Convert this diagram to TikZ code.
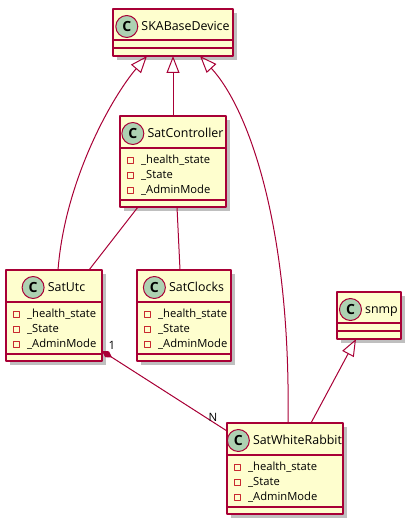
\documentclass[tikz,border=0pt]{standalone}
\usepackage{fontspec}
\setmainfont{Open Sans}
\usetikzlibrary{arrows.meta}
\usetikzlibrary{positioning}
\usetikzlibrary{shadows}

\definecolor{umlborder}{HTML}{A80036}
\definecolor{umlfill}{HTML}{FEFECE}
\definecolor{umlcircle}{HTML}{ADD1B2}
\definecolor{umlpriv}{HTML}{C82930}

\tikzset{
  classbox/.style={draw=umlborder,fill=umlfill,line width=1.5pt,inner sep=0pt,outer sep=0pt,
    anchor=north west,drop shadow={shadow xshift=4pt,shadow yshift=-4pt,fill=black,opacity=.25}},
  classname/.style={inner sep=0pt,text height=9.5pt,text depth=3pt,font=\fontsize{12.4}{14}\selectfont},
  classcircle/.style={circle,draw=umlborder,fill=umlcircle,line width=1pt,minimum size=22pt,inner sep=0pt,
    font=\bfseries\fontsize{14}{16}\selectfont},
  attr/.style={inner sep=0pt,anchor=west,text height=8.5pt,text depth=2.5pt,font=\fontsize{11.2}{13}\selectfont},
  privbox/.style={draw=umlpriv,line width=1pt,minimum size=6pt,inner sep=0pt},
  mult/.style={inner sep=0pt,font=\fontsize{11.5}{13}\selectfont},
  link/.style={draw=umlborder,line width=1pt},
  inherit/.style={link,-{Triangle[open,length=17pt,width=13pt]}},
  compose/.style={link,{Diamond[length=12pt,width=7pt]}-}
}

% class box: id, top left, width, height, title
\newcommand{\umlclass}[5]{%
  \node[classbox,minimum width=#3,minimum height=#4] (#1) at (#2) {};
  \node[classname] (#1-name) at ([xshift=12.5pt,yshift=-18.5pt]#1.north) {#5};
  \node[classcircle,left=3pt of #1-name,yshift=1pt] (#1-c) {C};
}
% separator line, offset from the top
\newcommand{\umlsep}[2]{%
  \draw[umlborder,line width=1.5pt] ([yshift=-#2]#1.north west) -- ([yshift=-#2]#1.north east);
}
% the three private fields
\newcommand{\umlattrs}[1]{%
  \foreach \t [count=\i] in {\_health\_state,\_State,\_AdminMode}
  {
    \node[attr] (#1-a\i) at ([xshift=21pt,yshift={-29pt-15pt*\i}]#1.north west) {\t};
    \node[privbox] (#1-p\i) at ([xshift=-10.5pt]#1-a\i.west) {};
  }
}

\begin{document}
\begin{tikzpicture}[line cap=round,line join=round,x=1pt,y=-1pt]
\useasboundingbox (0,0) rectangle (411,524);
% classes
\umlclass{ska}{113,9}{120pt}{47pt}{SKABaseDevice}
\umlsep{ska}{31pt}
\umlsep{ska}{39pt}
\umlclass{ctrl}{120,116}{106pt}{91pt}{SatController}
\umlsep{ctrl}{32pt}
\umlsep{ctrl}{84pt}
\umlattrs{ctrl}
\umlclass{utc}{6,270}{96pt}{91pt}{SatUtc}
\umlsep{utc}{32pt}
\umlsep{utc}{84pt}
\umlattrs{utc}
\umlclass{clocks}{137,270}{94pt}{91pt}{SatClocks}
\umlsep{clocks}{32pt}
\umlsep{clocks}{84pt}
\umlattrs{clocks}
\umlclass{snmp}{337,292}{64pt}{47pt}{snmp}
\umlsep{snmp}{31pt}
\umlsep{snmp}{39pt}
\umlclass{swr}{227,423}{116pt}{91pt}{SatWhiteRabbit}
\umlsep{swr}{32pt}
\umlsep{swr}{84pt}
\umlattrs{swr}
% inheritance
\draw[inherit] (ctrl.north) -- (ska.south);
\draw[inherit] ([xshift=4pt]utc.north) .. controls (65,180) and (112,97) .. ([xshift=-26pt]ska.south);
\draw[inherit] ([xshift=3pt]swr.north) .. controls (291,225) and (248,108) .. ([xshift=27pt]ska.south);
\draw[inherit] ([xshift=26pt]swr.north) -- ([xshift=-13pt]snmp.south);
% other links
\draw[link] ([xshift=-35pt]ctrl.south) -- ([xshift=35pt]utc.north);
\draw[link] ([xshift=4pt]ctrl.south) -- ([xshift=-4pt]clocks.north);
\draw[compose] ([yshift=10pt]utc.south east) -- ([yshift=-8pt]swr.north west);
\node[mult] (utc-one) at (112,345) {1};
\node[mult] (swr-n) at (213,417) {N};
\end{tikzpicture}
\end{document}
